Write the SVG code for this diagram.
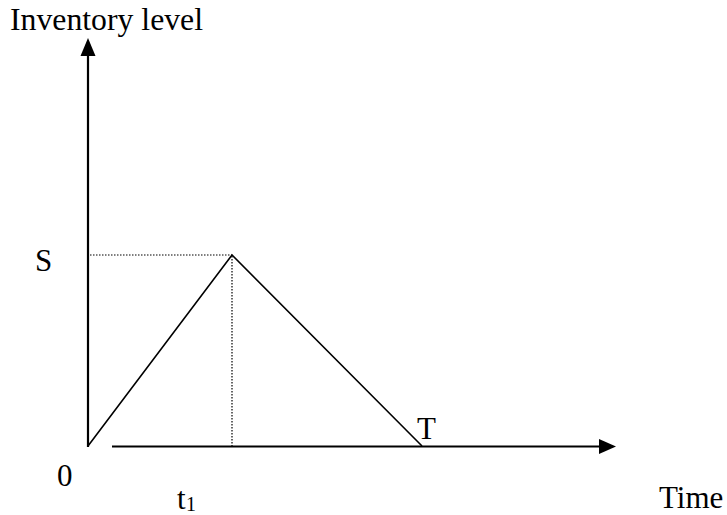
<svg xmlns="http://www.w3.org/2000/svg" width="727" height="515" viewBox="0 0 727 515">
<style>
.lbl{font-family:"Liberation Serif","Times New Roman",serif;font-size:31px;fill:#000}
.sub{font-family:"Liberation Serif","Times New Roman",serif;font-size:20px;fill:#000}
.axis{stroke:#000;stroke-width:2.2;fill:none}
.ln{stroke:#000;stroke-width:1.6;fill:none}
.dot{stroke:#000;stroke-width:1.2;stroke-dasharray:1.5 1.5;fill:none}
.head{fill:#000}
</style>
<rect width="727" height="515" fill="#fff"/>
<g id="connectors">
<line class="axis" x1="88" y1="447" x2="88" y2="55"/>
<polygon class="head" points="88,38 80.5,56 95.5,56"/>
<line class="axis" x1="112" y1="446.5" x2="601" y2="446.5"/>
<polygon class="head" points="616,446.5 599,439 599,454"/>
<polyline class="ln" points="88,446 232,255 422,446"/>
<line class="dot" x1="90" y1="255" x2="232" y2="255"/>
<line class="dot" x1="232" y1="256" x2="232" y2="446"/>
</g>
<g id="labels">
<text class="lbl" x="10" y="30" textLength="193" lengthAdjust="spacingAndGlyphs">Inventory level</text>
<text class="lbl" x="35" y="271">S</text>
<text class="lbl" x="57" y="486">0</text>
<text class="lbl" x="177" y="509">t</text>
<text class="sub" x="186" y="511">1</text>
<text class="lbl" x="417" y="439">T</text>
<text class="lbl" x="659" y="508">Time</text>
</g>
</svg>
